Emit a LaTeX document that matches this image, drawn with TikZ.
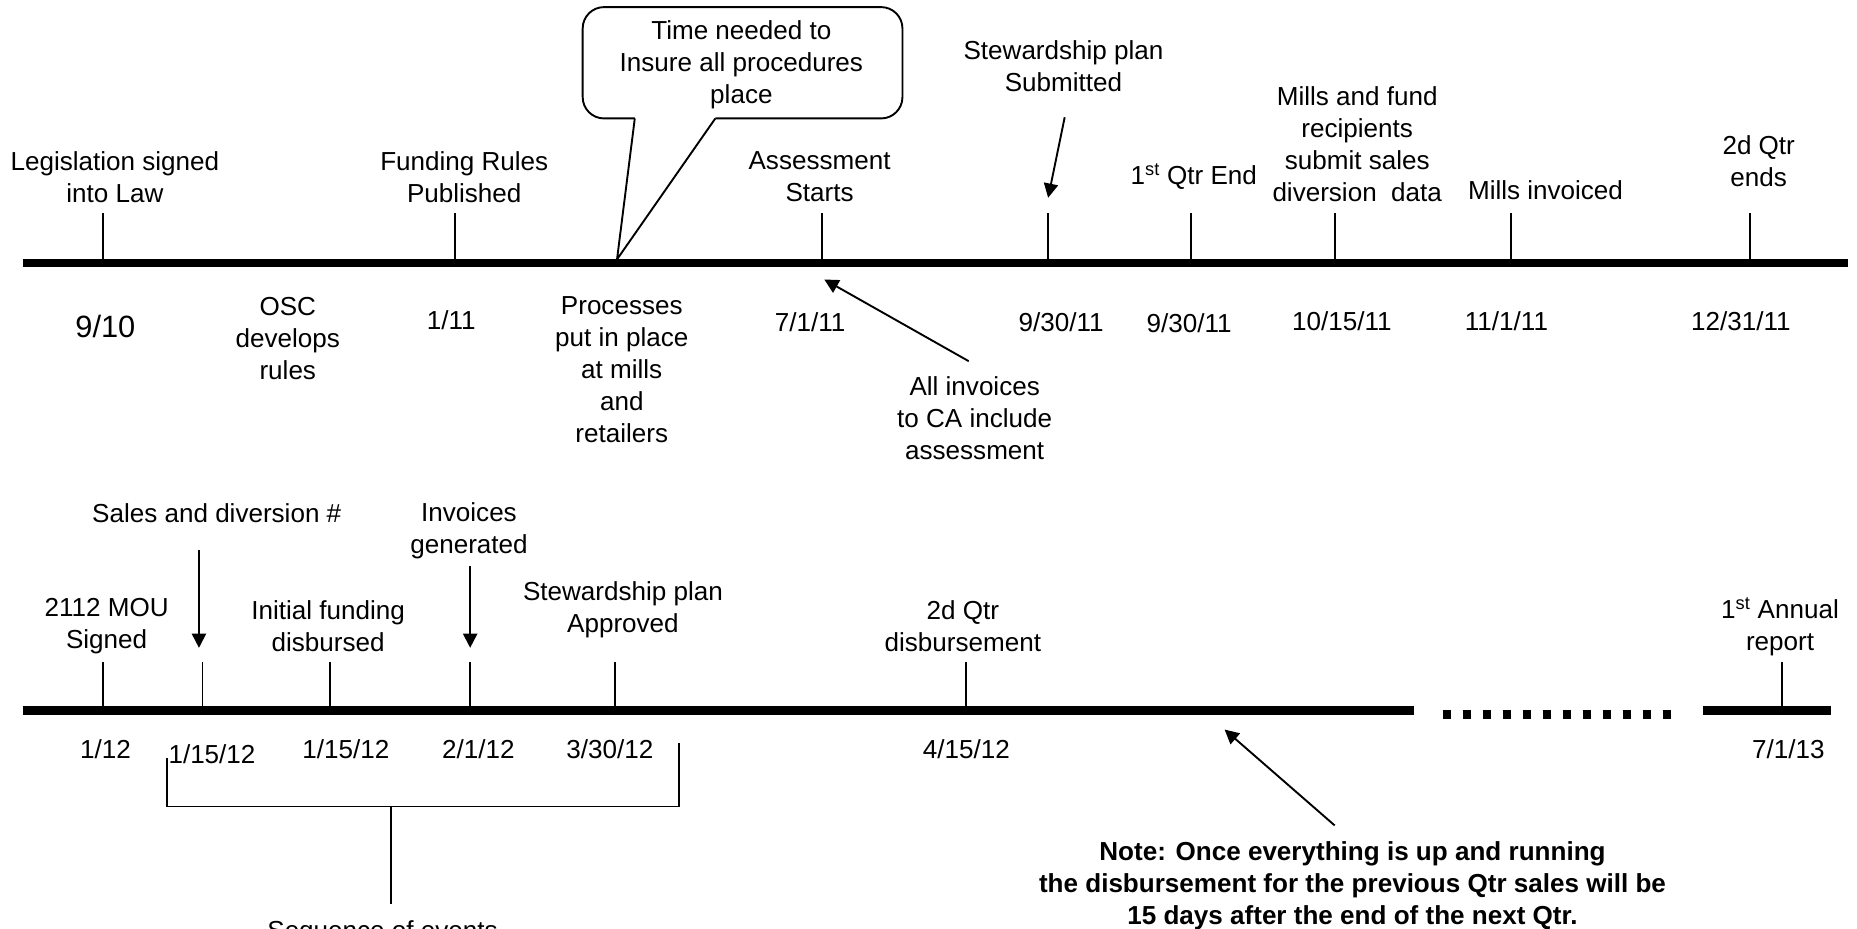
\documentclass[tikz,border=0pt]{standalone}
\usepackage{fontspec}
\setmainfont{Liberation Sans}
\usetikzlibrary{arrows.meta}
\begin{document}
\begin{tikzpicture}[x=1pt,y=-1pt,
  txt/.style={inner sep=0pt, align=center, font=\fontsize{22}{27}\selectfont},
  big/.style={inner sep=0pt, font=\fontsize{26}{31}\selectfont},
  note/.style={inner sep=0pt, align=center, font=\fontsize{22}{27}\selectfont\bfseries},
  bar/.style={line width=7.4pt},
  dotbar/.style={line width=7.4pt, dash pattern=on 7.4pt off 9.5pt},
  tick/.style={line width=1.6pt},
  thinline/.style={line width=1.6pt},
  arr/.style={line width=1.6pt, -{Triangle[length=12pt,width=12pt]}},
]
\useasboundingbox (0,0) rectangle (1568,784);
\clip (0,0) rectangle (1568,784);

% ---------- top timeline ----------
\coordinate (topL) at (19,222);
\coordinate (topR) at (1560,222);
\draw[bar] (topL) -- (topR);
\foreach \x in {87,384,694,885,1006,1127,1276,1478}
  \draw[tick] (\x,180) -- (\x,222);

% labels above
\node[txt] (legis)  at (97,150)   {Legislation signed\\into Law};
\node[txt] (fund)   at (392,150)  {Funding Rules\\Published};
\node[txt] (assess) at (692,149)  {Assessment\\Starts};
\node[txt] (stew)   at (898,56)   {Stewardship plan\\Submitted};
\node[txt] (q1)     at (1008,149) {1\textsuperscript{st} Qtr End};
\node[txt] (mills)  at (1146,122) {Mills and fund\\recipients\\submit sales\\diversion\ \ data};
\node[txt] (minv)   at (1305,161) {Mills invoiced};
\node[txt] (q2)     at (1485,136) {2d Qtr\\ends};

% callout
\node[txt] (time) at (626,55) {Time needed to\\Insure all procedures\\place};
\coordinate (cbL) at (536,100);
\coordinate (cbR) at (604,100);
\coordinate (ctip) at (521,219);
\draw[thinline, rounded corners=18pt] (cbR) -- (762,100) -- (762,6) -- (492,6) -- (492,100) -- (cbL);
\draw[thinline] (cbL) -- (ctip) -- (cbR);

% stewardship arrow
\coordinate (sa1) at (899,99);
\coordinate (sa2) at (885,167);
\draw[arr] (sa1) -- (sa2);

% labels below
\node[big] (d910)  at (89,276)   {9/10};
\node[txt] (osc)   at (243,286)  {OSC\\develops\\rules};
\node[txt] (d111)  at (381,270)  {1/11};
\node[txt] (proc)  at (525,312)  {Processes\\put in place\\at mills\hspace*{8pt}\\and\\retailers};
\node[txt] (d7111) at (684,272)  {7/1/11};
\node[txt] (d9a)   at (896,272)  {9/30/11};
\node[txt] (d9b)   at (1004,273) {9/30/11};
\node[txt] (d1015) at (1133,271) {10/15/11};
\node[txt] (d1111) at (1272,271) {11/1/11};
\node[txt] (d1231) at (1470,271) {12/31/11};
\node[txt] (allinv) at (823,353) {All invoices\\to CA include\\assessment};
\coordinate (ia1) at (818,305);
\coordinate (ia2) at (696,236);
\draw[arr] (ia1) -- (ia2);

% ---------- bottom timeline ----------
\coordinate (botL) at (19,600);
\coordinate (botM) at (1194,600);
\coordinate (dotL) at (1218,603);
\coordinate (dotR) at (1412,603);
\coordinate (bot2L) at (1438,600);
\coordinate (bot2R) at (1546,600);
\draw[bar] (botL) -- (botM);
\draw[dotbar] (dotL) -- (dotR);
\draw[bar] (bot2L) -- (bot2R);
\foreach \x in {87,171,279,397,519,816,1505}
  \draw[tick] (\x,559) -- (\x,600);

\node[txt] (sales)   at (183,433)  {Sales and diversion \#};
\node[txt] (invgen)  at (396,448)  {Invoices\\generated};
\node[txt] (mou)     at (90,529)   {2112 MOU\\Signed};
\node[txt] (init)    at (277,529)  {Initial funding\\disbursed};
\node[txt] (stewapp) at (526,515)  {Stewardship plan\\Approved};
\node[txt] (q2d)     at (813,529)  {2d Qtr\\disbursement};
\node[txt] (annual)  at (1503,529) {1\textsuperscript{st} Annual\\report};

\coordinate (sd1) at (168,464);
\coordinate (sd2) at (168,547);
\draw[arr] (sd1) -- (sd2);
\coordinate (ig1) at (397,478);
\coordinate (ig2) at (397,547);
\draw[arr] (ig1) -- (ig2);

\node[txt] (b112)   at (89,633)   {1/12};
\node[txt] (b11512a) at (179,637) {1/15/12};
\node[txt] (b11512b) at (292,633) {1/15/12};
\node[txt] (b2112)  at (404,633)  {2/1/12};
\node[txt] (b33012) at (515,633)  {3/30/12};
\node[txt] (b41512) at (816,633)  {4/15/12};
\node[txt] (b7113)  at (1510,633) {7/1/13};

% bracket
\coordinate (brL) at (141,640);
\coordinate (brR) at (573,627);
\coordinate (brS) at (330,681);
\draw[thinline] (brL) -- (141,681) -- (573,681) -- (brR);
\node[txt, anchor=base] (seq) at (323,793) {Sequence of events};
\draw[thinline] (brS) -- (330,763);

% note
\node[note] (note) at (1142,748) {Note: Once everything is up and running\\the disbursement for the previous Qtr sales will be\\15 days after the end of the next Qtr.};
\coordinate (na1) at (1127,697);
\coordinate (na2) at (1034,616);
\draw[arr] (na1) -- (na2);
\end{tikzpicture}
\end{document}
